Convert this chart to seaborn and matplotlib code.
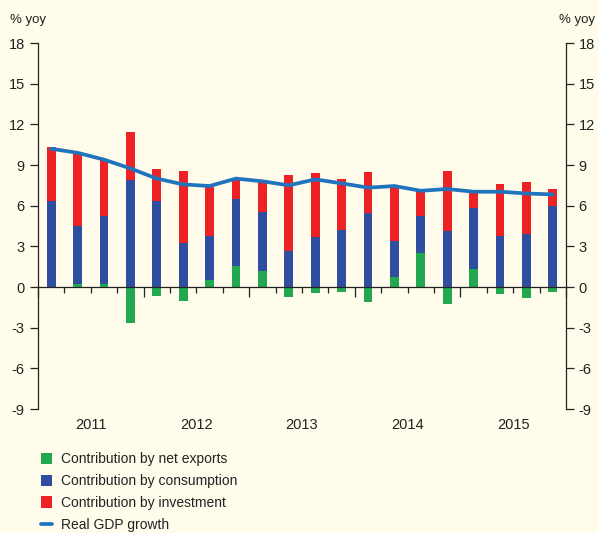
import matplotlib.pyplot as plt
import seaborn as sns
import pandas as pd
from matplotlib.patches import Patch
from matplotlib.lines import Line2D
from matplotlib.ticker import FixedLocator
import matplotlib.transforms as mtransforms

# quarterly contributions to real GDP growth, % yoy (2011Q1 - 2015Q4)
quarters = [f"{y}Q{q}" for y in range(2011, 2016) for q in range(1, 5)]
years = ["2011", "2012", "2013", "2014", "2015"]
net_exports = [-0.05, 0.22, 0.20, -2.63, -0.66, -1.03, 0.52, 1.57, 1.18, -0.74,
               -0.42, -0.37, -1.13, 0.74, 2.50, -1.25, 1.33, -0.52, -0.79, -0.39]
consumption = [6.36, 4.25, 5.04, 7.90, 6.32, 3.22, 3.24, 4.90, 4.32, 2.63,
               3.71, 4.20, 5.43, 2.63, 2.76, 4.10, 4.47, 3.78, 3.93, 6.00]
investment = [3.94, 5.46, 4.18, 3.50, 2.38, 5.33, 3.64, 1.53, 2.30, 5.67,
              4.67, 3.80, 3.05, 4.03, 1.89, 4.43, 1.20, 3.82, 3.81, 1.25]
gdp_growth = [10.2, 9.9, 9.4, 8.75, 8.0, 7.57, 7.45, 8.0, 7.8, 7.5,
              7.94, 7.65, 7.33, 7.45, 7.1, 7.23, 7.03, 7.03, 6.9, 6.83]

GREEN = "#22a84f"
BLUE = "#2f4e9f"
RED = "#ee2224"
LINE = "#1f74bd"
BG = "#fffcec"
INK = "#222222"

df = pd.DataFrame({
    "quarter": quarters,
    "net_exports": net_exports,
    "consumption": consumption,
    "investment": investment,
    "gdp": gdp_growth,
})
df["pos_base"] = df["net_exports"].clip(lower=0)
df["inv_base"] = df["pos_base"] + df["consumption"]
df["x"] = range(len(df))

sns.set_theme(style="ticks")
plt.rcParams["font.family"] = ["Liberation Sans", "DejaVu Sans"]
plt.rcParams["axes.facecolor"] = BG
plt.rcParams["figure.facecolor"] = BG

fig = plt.figure(figsize=(5.98, 5.33), dpi=100)
ax = fig.add_axes([0.0635, 0.2326, 0.8830, 0.6867])

bw = 0.33
sns.barplot(data=df, x="quarter", y="net_exports", color=GREEN, width=bw,
            saturation=1, linewidth=0, ax=ax)
sns.barplot(data=df, x="quarter", y="consumption", bottom=df["pos_base"], color=BLUE,
            width=bw, saturation=1, linewidth=0, ax=ax)
sns.barplot(data=df, x="quarter", y="investment", bottom=df["inv_base"], color=RED,
            width=bw, saturation=1, linewidth=0, ax=ax)
sns.lineplot(data=df, x="x", y="gdp", color=LINE, linewidth=2.7, ax=ax)

ax.set_xlim(-0.5, len(df) - 0.5)
ax.set_ylim(-9, 18)
yt = list(range(-9, 19, 3))
ax.set_yticks(yt)
ax.set_yticklabels([str(v) for v in yt])
ax.set_xlabel("")
ax.set_ylabel("")

for s in ["top", "right"]:
    ax.spines[s].set_visible(False)
ax.spines["bottom"].set_position(("data", 0))
for s in ["left", "bottom"]:
    ax.spines[s].set_color(INK)
    ax.spines[s].set_linewidth(0.9)

ax.xaxis.set_major_locator(FixedLocator([-0.5 + 4 * i for i in range(6)]))
ax.xaxis.set_minor_locator(FixedLocator([-0.5 + i for i in range(21)]))
ax.set_xticklabels([])
ax.tick_params(axis="x", which="major", direction="out", length=7, width=0.9, color=INK)
ax.tick_params(axis="x", which="minor", direction="out", length=4, width=0.9, color=INK)
ax.tick_params(axis="y", direction="out", length=6, width=0.9, color=INK,
               labelsize=10.5, labelcolor=INK, pad=3.5)

trans = mtransforms.blended_transform_factory(ax.transData, ax.transAxes)
for i, yr in enumerate(years):
    ax.text(1.5 + 4 * i, -0.045, yr, transform=trans, ha="center", va="center",
            fontsize=10.5, color=INK)

ax2 = ax.twinx()
ax2.set_ylim(-9, 18)
ax2.set_yticks(yt)
ax2.set_yticklabels([str(v) for v in yt])
for s in ["top", "left", "bottom"]:
    ax2.spines[s].set_visible(False)
ax2.spines["right"].set_color(INK)
ax2.spines["right"].set_linewidth(0.9)
ax2.tick_params(axis="y", direction="out", length=6, width=0.9, color=INK,
                labelsize=10.5, labelcolor=INK, pad=3)

fig.text(10 / 598, 1 - 20 / 533, "% yoy", ha="left", va="center", fontsize=9.5, color=INK)
fig.text(595 / 598, 1 - 20 / 533, "% yoy", ha="right", va="center", fontsize=9.5, color=INK)

handles = [
    Patch(facecolor=GREEN, edgecolor="none", label="Contribution by net exports"),
    Patch(facecolor=BLUE, edgecolor="none", label="Contribution by consumption"),
    Patch(facecolor=RED, edgecolor="none", label="Contribution by investment"),
    Line2D([0], [0], color=LINE, linewidth=2.7, label="Real GDP growth"),
]
fig.legend(handles=handles, loc="upper left", bbox_to_anchor=(0.068, 0.152),
           frameon=False, fontsize=10, handlelength=0.85, handleheight=0.85,
           handletextpad=0.6, labelspacing=0.57, borderpad=0, borderaxespad=0,
           labelcolor=INK)

fig.savefig("out.png", dpi=100, facecolor=BG)
